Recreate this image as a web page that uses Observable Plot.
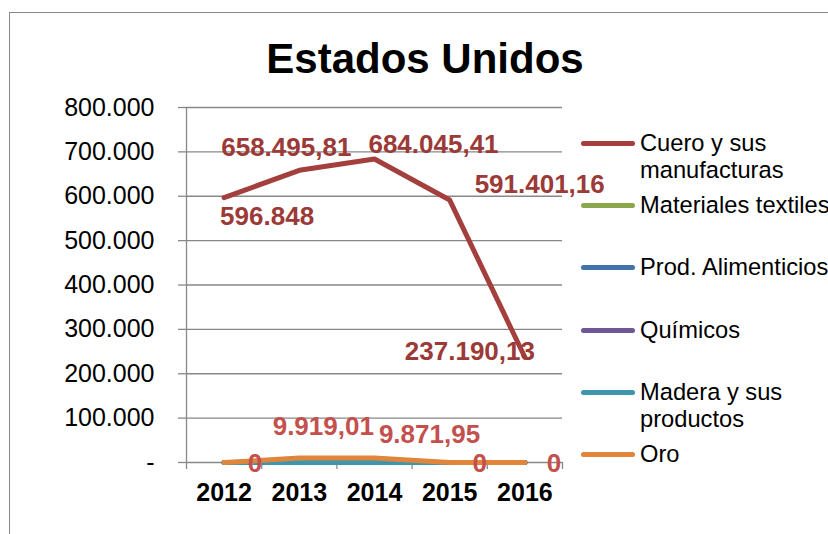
<!DOCTYPE html>
<html><head><meta charset="utf-8">
<script src="https://cdn.jsdelivr.net/npm/d3@7"></script>
<script src="https://cdn.jsdelivr.net/npm/@observablehq/plot@0.6"></script>
<style>
body{margin:0;width:828px;height:534px;overflow:hidden;background:#fff;position:relative;font-family:"Liberation Sans",Arial,sans-serif;}
#frame{position:absolute;left:9px;top:12px;width:900px;height:600px;border:1px solid #8a8a8a;box-sizing:border-box;}
#title{position:absolute;left:0;top:37.5px;width:850px;text-align:center;font-size:42px;line-height:42px;font-weight:bold;color:#000;}
#chart{position:absolute;left:0;top:0;}
#legend{position:absolute;left:578px;top:129.5px;}
.entry{position:relative;height:62.4px;}
.sw{position:absolute;left:3px;top:11px;width:54px;height:5px;border-radius:3px;}
.lt{position:absolute;left:62px;top:0;width:205px;font-size:23.7px;line-height:27px;color:#000;white-space:normal;}
</style></head><body>
<div id="frame"></div>
<div id="title">Estados Unidos</div>
<div id="chart"></div>
<div id="legend"></div>
<script>
const years = [2012, 2013, 2014, 2015, 2016];
const seriesNames = ["Cuero y sus manufacturas", "Materiales textiles", "Prod. Alimenticios", "Químicos", "Madera y sus productos", "Oro"];
const seriesColors = ["#a33f3c", "#8aa84b", "#4372aa", "#6f5694", "#3d96ae", "#e0853c"];
const cuero = [596848, 658495.81, 684045.41, 591401.16, 237190.13];
const textiles = [0, 0, 0, 0, 0];
const alimenticios = [0, 0, 0, 0, 0];
const quimicos = [0, 0, 0, 0, 0];
const madera = [0, 0, 0, 0, 0];
const oro = [0, 9919.01, 9871.95, 0, 0];
const cueroLabels = ["596.848", "658.495,81", "684.045,41", "591.401,16", "237.190,13"];
const oroLabels = ["0", "9.919,01", "9.871,95", "0", "0"];
const yTicks = [0, 100000, 200000, 300000, 400000, 500000, 600000, 700000, 800000];

const seriesValues = [cuero, textiles, alimenticios, quimicos, madera, oro];
const data = [];
seriesNames.forEach((name, i) => seriesValues[i].forEach((v, j) => data.push({series: name, year: years[j], value: v})));

const yFmt = d => d === 0 ? "-" : d3.format(",")(d).replace(/,/g, ".");
const bounds = years.map(y => y - 0.5).concat([years[years.length - 1] + 0.5]);

// label offsets (style only)
const cueroOff = [[43, 19], [-13, -23], [59, -14], [90, -15], [-55, -6]];
const oroOff = [[31, 1], [24, -31], [55, -23], [30, 1], [29, 1]];

const labelMarks = [];
cueroLabels.forEach((t, i) => labelMarks.push(Plot.text([{x: years[i], y: cuero[i], t}], {x: "x", y: "y", text: "t", dx: cueroOff[i][0], dy: cueroOff[i][1], fontSize: 26, fontWeight: "bold", fill: "#9b3a37"})));
oroLabels.forEach((t, i) => labelMarks.push(Plot.text([{x: years[i], y: oro[i], t}], {x: "x", y: "y", text: "t", dx: oroOff[i][0], dy: oroOff[i][1], fontSize: 26, fontWeight: "bold", fill: "#c4504d"})));

const plot = Plot.plot({
  width: 828, height: 534,
  marginLeft: 186, marginRight: 266, marginTop: 107, marginBottom: 72,
  style: {fontFamily: "'Liberation Sans', Arial, sans-serif", background: "transparent", overflow: "visible"},
  x: {type: "linear", domain: [years[0] - 0.5, years[years.length - 1] + 0.5], axis: null},
  y: {domain: [0, 800000], axis: null},
  color: {domain: seriesNames, range: seriesColors},
  marks: [
    Plot.gridY(yTicks, {stroke: "#888", strokeOpacity: 1, strokeWidth: 1.3}),
    Plot.axisY(yTicks, {tickSize: 8, tickPadding: 24, fontSize: 25, tickFormat: yFmt, stroke: "#888", strokeWidth: 1.3, fill: "#000", label: null}),
    Plot.ruleX([bounds[0]], {stroke: "#888", strokeWidth: 1.3}),
    Plot.axisX(bounds, {tickSize: 7, tickFormat: () => "", stroke: "#888", strokeWidth: 1.3, label: null}),
    Plot.axisX(years, {tickSize: 0, tickPadding: 21, fontSize: 25, fontWeight: "bold", tickFormat: d => String(d), fill: "#000", label: null}),
    Plot.line(data, {x: "year", y: "value", z: "series", stroke: "series", strokeWidth: 5}),
    ...labelMarks
  ]
});
document.getElementById("chart").appendChild(plot);

const legend = document.getElementById("legend");
seriesNames.forEach((name, i) => {
  const e = document.createElement("div"); e.className = "entry";
  const s = document.createElement("div"); s.className = "sw"; s.style.background = seriesColors[i];
  const t = document.createElement("div"); t.className = "lt"; t.textContent = name;
  e.appendChild(s); e.appendChild(t); legend.appendChild(e);
});
</script>
</body></html>
